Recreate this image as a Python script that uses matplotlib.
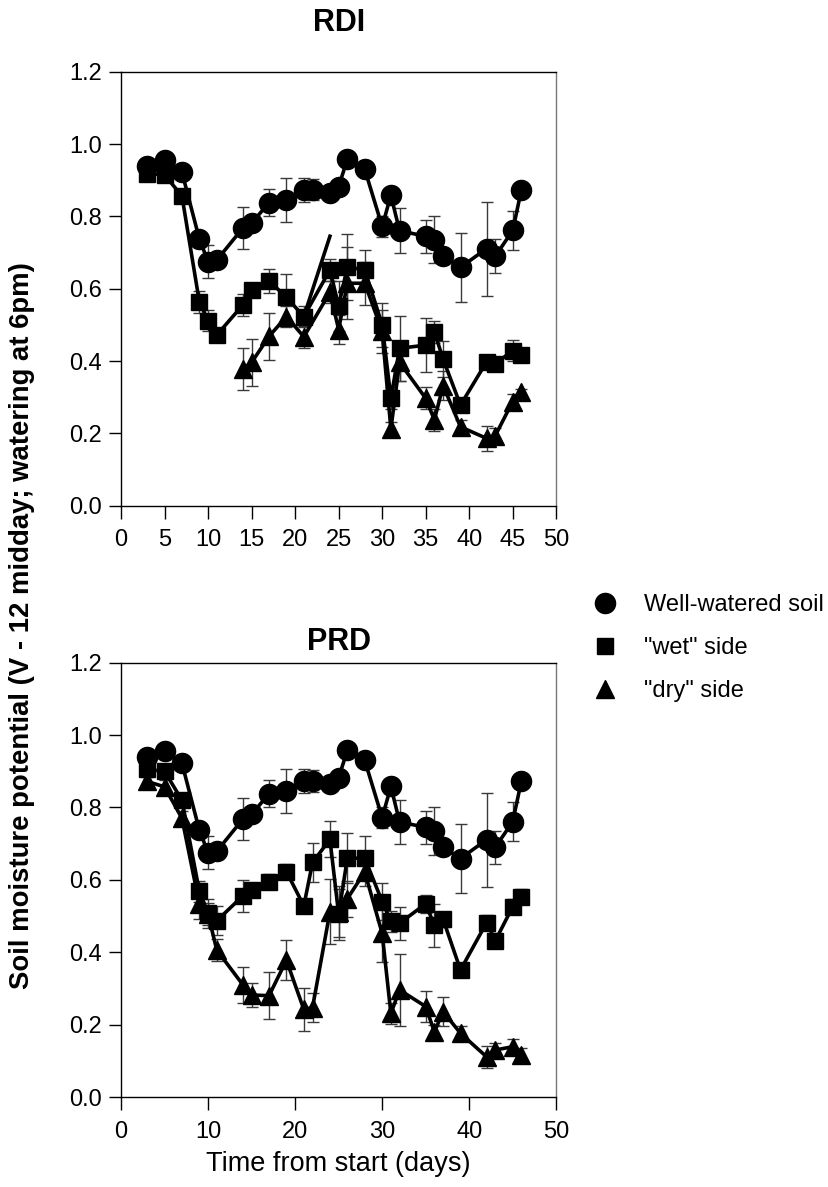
import matplotlib
matplotlib.use("Agg")
import matplotlib.pyplot as plt
from matplotlib.lines import Line2D

plt.rcParams['font.family'] = ['Liberation Sans', 'DejaVu Sans']

# well-watered soil (same in both panels)
days_ww = [3, 5, 7, 9, 10, 11, 14, 15, 17, 19, 21, 22, 24, 25, 26, 28, 30, 31, 32, 35, 36, 37, 39, 42, 43, 45, 46]
ww = [0.94, 0.955, 0.922, 0.737, 0.675, 0.679, 0.768, 0.781, 0.838, 0.845, 0.873, 0.874, 0.864, 0.882,
      0.958, 0.93, 0.772, 0.858, 0.76, 0.745, 0.735, 0.69, 0.659, 0.711, 0.69, 0.761, 0.874]
ww_err = [0.01, 0.01, 0.01, 0.02, 0.045, 0.02, 0.058, 0.02, 0.037, 0.06, 0.033, 0.03, 0.01, 0.01,
          0.01, 0.01, 0.03, 0.01, 0.062, 0.046, 0.065, 0.02, 0.095, 0.13, 0.046, 0.055, 0.01]

# RDI
days_rdi_wet = [3, 5, 7, 9, 10, 11, 14, 15, 17, 19, 21, 24, 25, 26, 28, 30, 31, 32, 35, 36, 37, 39, 42, 43, 45, 46]
rdi_wet = [0.918, 0.915, 0.856, 0.563, 0.512, 0.472, 0.555, 0.596, 0.622, 0.576, 0.523, 0.652, 0.552,
           0.66, 0.652, 0.5, 0.297, 0.435, 0.444, 0.481, 0.405, 0.278, 0.398, 0.392, 0.429, 0.417]
rdi_wet_err = [0.01, 0.01, 0.01, 0.03, 0.03, 0.01, 0.03, 0.01, 0.033, 0.064, 0.03, 0.03, 0.07,
               0.09, 0.055, 0.06, 0.03, 0.09, 0.075, 0.03, 0.05, 0.02, 0.01, 0.01, 0.03, 0.01]
days_rdi_dry = [14, 15, 17, 19, 21, 24, 25, 26, 28, 30, 31, 32, 35, 36, 37, 39, 42, 43, 45, 46]
rdi_dry = [0.378, 0.396, 0.468, 0.523, 0.467, 0.59, 0.487, 0.615, 0.615, 0.482, 0.212, 0.396,
           0.297, 0.237, 0.332, 0.218, 0.186, 0.194, 0.288, 0.313]
rdi_dry_err = [0.058, 0.065, 0.066, 0.03, 0.03, 0.03, 0.04, 0.1, 0.06, 0.06, 0.02, 0.05,
               0.03, 0.03, 0.04, 0.02, 0.035, 0.02, 0.02, 0.01]
# stray segment in the RDI panel
days_rdi_extra = [21, 24]
rdi_extra = [0.523, 0.745]

# PRD
days_prd = days_ww
prd_wet = [0.905, 0.9, 0.82, 0.568, 0.508, 0.487, 0.556, 0.572, 0.595, 0.623, 0.528, 0.648, 0.712, 0.505,
           0.66, 0.66, 0.54, 0.485, 0.48, 0.534, 0.474, 0.491, 0.351, 0.482, 0.432, 0.526, 0.554]
prd_wet_err = [0.02, 0.02, 0.02, 0.03, 0.04, 0.04, 0.045, 0.02, 0.02, 0.02, 0.02, 0.055, 0.05, 0.07,
               0.07, 0.06, 0.05, 0.03, 0.045, 0.025, 0.06, 0.02, 0.02, 0.02, 0.02, 0.02, 0.02]
prd_dry = [0.872, 0.857, 0.77, 0.533, 0.505, 0.406, 0.31, 0.282, 0.28, 0.378, 0.242, 0.247, 0.512, 0.512,
           0.548, 0.622, 0.452, 0.231, 0.296, 0.25, 0.18, 0.236, 0.176, 0.111, 0.13, 0.139, 0.116]
prd_dry_err = [0.02, 0.02, 0.02, 0.04, 0.03, 0.03, 0.05, 0.033, 0.065, 0.055, 0.06, 0.04, 0.09, 0.07,
               0.05, 0.04, 0.08, 0.03, 0.1, 0.043, 0.02, 0.04, 0.02, 0.03, 0.02, 0.02, 0.02]

labels = ['Well-watered soil', '"wet" side', '"dry" side']
MS = {'o': 14.5, 's': 11.5, '^': 13}


def draw_series(ax, x, y, err, marker):
    ax.errorbar(x, y, yerr=err, fmt='none', ecolor='#3a3a3a', elinewidth=1.0,
                capsize=4.5, capthick=1.0, zorder=1)
    ax.plot(x, y, color='black', lw=2.6, marker=marker, ms=MS[marker], zorder=2)


def style_axes(ax, xstep):
    ax.set_xlim(0, 50)
    ax.set_ylim(0, 1.2)
    ax.set_xticks(range(0, 51, xstep))
    ax.set_yticks([0.0, 0.2, 0.4, 0.6, 0.8, 1.0, 1.2])
    ax.set_yticklabels([f"{v:.1f}" for v in ax.get_yticks()])
    ax.tick_params(direction='out', length=9, width=1, labelsize=17, pad=5,
                   top=False, right=False)
    ax.tick_params(axis='x', pad=8)
    for s in ax.spines.values():
        s.set_linewidth(1.0)
    ax.spines['right'].set_color('#777777')


fig = plt.figure(figsize=(8.29, 11.87), dpi=100)
ax1 = fig.add_axes([0.146, 0.574, 0.525, 0.3656])
ax2 = fig.add_axes([0.146, 0.0758, 0.525, 0.3659])

# RDI panel
draw_series(ax1, days_rdi_dry, rdi_dry, rdi_dry_err, '^')
draw_series(ax1, days_rdi_wet, rdi_wet, rdi_wet_err, 's')
ax1.plot(days_rdi_extra, rdi_extra, color='black', lw=2.6, zorder=2)
draw_series(ax1, days_ww, ww, ww_err, 'o')
style_axes(ax1, 5)
ax1.set_title('RDI', fontsize=22, fontweight='bold', pad=29)

# PRD panel
draw_series(ax2, days_prd, prd_dry, prd_dry_err, '^')
draw_series(ax2, days_prd, prd_wet, prd_wet_err, 's')
draw_series(ax2, days_ww, ww, ww_err, 'o')
style_axes(ax2, 10)
ax2.set_title('PRD', fontsize=22, fontweight='bold', pad=9)
ax2.set_xlabel('Time from start (days)', fontsize=19.5, labelpad=6)

fig.text(0.027, 0.473, 'Soil moisture potential (V - 12 midday; watering at 6pm)',
         rotation=90, ha='center', va='center', fontsize=19.8, fontweight='bold')

handles = [Line2D([], [], color='black', ls='none', marker=m, ms=MS[m]) for m in ['o', 's', '^']]
fig.legend(handles, labels, loc='center left', bbox_to_anchor=(0.717, 0.454),
           frameon=False, fontsize=17, handlelength=0.9, handletextpad=1.2,
           labelspacing=0.9, borderpad=0, borderaxespad=0)

fig.savefig('out.png', dpi=100)
